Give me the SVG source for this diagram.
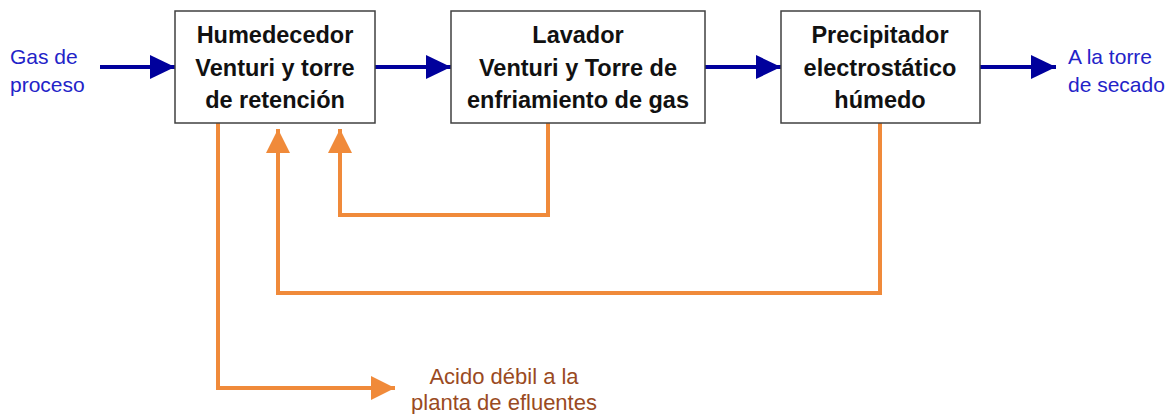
<svg xmlns="http://www.w3.org/2000/svg" width="1174" height="414" viewBox="0 0 1174 414">
<style>
.box{fill:#fff;stroke:#404040;stroke-width:1.5}
.bt{font-family:"Liberation Sans",Arial,sans-serif;font-weight:bold;font-size:23.5px;fill:#111;text-anchor:middle}
.bl{stroke:#00009c;stroke-width:4;fill:none}
.or{stroke:#f08a3a;stroke-width:4;fill:none}
.lb{font-family:"Liberation Sans",Arial,sans-serif;font-size:21px;fill:#2323c8}
.lo{font-family:"Liberation Sans",Arial,sans-serif;font-size:22px;fill:#9a4a22;text-anchor:middle}
</style>
<defs>
<marker id="ab" markerUnits="userSpaceOnUse" markerWidth="26" markerHeight="26" refX="25" refY="12" orient="auto">
<path d="M0,0 L25,12 L0,24 Z" fill="#00009c"/>
</marker>
<marker id="ao" markerUnits="userSpaceOnUse" markerWidth="26" markerHeight="26" refX="24" refY="12" orient="auto">
<path d="M0,0 L24,12 L0,24 Z" fill="#f08a3a"/>
</marker>
</defs>
<g id="connectors">
<line class="bl" x1="100" y1="67" x2="175" y2="67" marker-end="url(#ab)"/>
<line class="bl" x1="375" y1="67" x2="451" y2="67" marker-end="url(#ab)"/>
<line class="bl" x1="705" y1="67" x2="781" y2="67" marker-end="url(#ab)"/>
<line class="bl" x1="980" y1="67" x2="1056" y2="67" marker-end="url(#ab)"/>
<polyline class="or" points="218,123 218,388 395,388" marker-end="url(#ao)"/>
<polyline class="or" points="548,123 548,215 340,215 340,129" marker-end="url(#ao)"/>
<polyline class="or" points="880,123 880,293 278,293 278,129" marker-end="url(#ao)"/>
</g>
<g id="n1">
<rect class="box" x="175" y="11" width="200" height="112"/>
<text class="bt" x="275" y="43">Humedecedor</text>
<text class="bt" x="275" y="76">Venturi y torre</text>
<text class="bt" x="275" y="108">de retención</text>
</g>
<g id="n2">
<rect class="box" x="451" y="11" width="254" height="112"/>
<text class="bt" x="578" y="43">Lavador</text>
<text class="bt" x="578" y="76">Venturi y Torre de</text>
<text class="bt" x="578" y="108">enfriamiento de gas</text>
</g>
<g id="n3">
<rect class="box" x="781" y="11" width="199" height="112"/>
<text class="bt" x="880" y="43">Precipitador</text>
<text class="bt" x="880" y="76">electrostático</text>
<text class="bt" x="880" y="108">húmedo</text>
</g>
<g id="labels">
<text class="lb" x="10" y="64">Gas de</text>
<text class="lb" x="10" y="92">proceso</text>
<text class="lb" x="1068" y="64">A la torre</text>
<text class="lb" x="1068" y="92">de secado</text>
<text class="lo" x="504" y="384">Acido débil a la</text>
<text class="lo" x="504" y="410">planta de efluentes</text>
</g>
</svg>
